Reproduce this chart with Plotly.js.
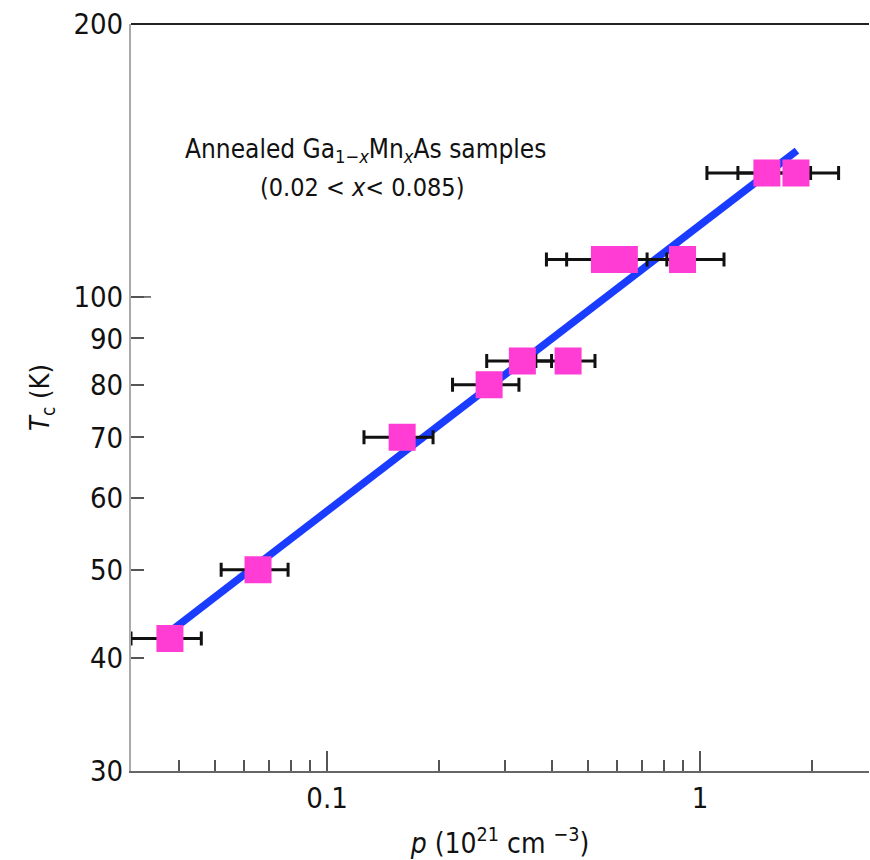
<!DOCTYPE html>
<html>
<head>
<meta charset="utf-8">
<script src="https://cdn.plot.ly/plotly-3.0.1.min.js"></script>
<style>html,body{margin:0;padding:0;background:#fff;}#chart{width:870px;height:860px;}</style>
</head>
<body>
<div id="chart"></div>
<script>
// Hole concentration p (10^21 cm^-3) and Curie temperature Tc (K)
const pValues   = [0.0379, 0.0653, 0.159, 0.272, 0.334, 0.443, 0.5545, 0.627, 0.898, 1.512, 1.809];
const tcValues  = [42, 50, 70, 80, 85, 85, 110, 110, 110, 137, 137];
const pErrors   = [0.0081, 0.0133, 0.0334, 0.055, 0.066, 0.080, 0.167, 0.188, 0.262, 0.468, 0.545];

// Fitted line (log-log)
const fitP  = [0.0375, 1.82];
const fitTc = [42.6, 145];

// Axis ticks
const xTickVals  = [0.1, 1];
const xTickText  = ['0.1', '1'];
const xMinorVals = [0.04, 0.05, 0.06, 0.07, 0.08, 0.09, 0.2, 0.3, 0.4, 0.5, 0.6, 0.7, 0.8, 0.9, 2];
const yTickVals  = [30, 40, 50, 60, 70, 80, 90, 100, 200];
const yTickText  = ['30', '40', '50', '60', '70', '80', '90', '100', '200'];

const FONT = "'Liberation Sans Narrow', 'Arial Narrow', 'DejaVu Sans Condensed', 'DejaVu Sans', sans-serif";

const traces = [
  {
    x: fitP, y: fitTc, type: 'scatter', mode: 'lines',
    line: {color: '#1a3cff', width: 7.5},
    hoverinfo: 'skip', showlegend: false
  },
  {
    x: pValues, y: tcValues, type: 'scatter', mode: 'markers',
    marker: {symbol: 'square', size: 25, color: '#ff3cd4', line: {color: '#ff3cd4', width: 2}},
    error_x: {type: 'data', array: pErrors, visible: true, color: '#111', thickness: 3, width: 7},
    showlegend: false
  }
];

const layout = {
  width: 870, height: 860,
  margin: {l: 131, r: 1, t: 24, b: 89},
  paper_bgcolor: '#fff', plot_bgcolor: '#fff',
  font: {family: FONT, color: '#111', size: 29},
  showlegend: false,
  xaxis: {
    type: 'log',
    range: [Math.log10(0.0298), Math.log10(2.84)],
    tickmode: 'array', tickvals: xTickVals, ticktext: xTickText,
    ticks: 'inside', ticklen: 20, tickwidth: 1.5, tickcolor: '#555',
    minor: {tickmode: 'array', tickvals: xMinorVals, ticks: 'inside', ticklen: 11, tickwidth: 1.5, tickcolor: '#555', showgrid: false},
    showline: true, linecolor: '#666', linewidth: 1.5,
    showgrid: false, zeroline: false,
    tickfont: {family: FONT, size: 29, color: '#111'},
    title: {text: '<i>p</i> (10<sup>21</sup> cm <sup>\u22123</sup>)', font: {family: FONT, size: 28, color: '#111'}, standoff: 20}
  },
  yaxis: {
    type: 'log',
    range: [Math.log10(30), Math.log10(200)],
    tickmode: 'array', tickvals: yTickVals, ticktext: yTickText,
    ticks: 'inside', ticklen: 13, tickwidth: 1.5, tickcolor: '#555',
    showline: true, linecolor: '#aaa', linewidth: 2,
    showgrid: false, zeroline: false,
    tickfont: {family: FONT, size: 29, color: '#111'},
    title: {text: '<i>T</i><sub>c</sub> (K)', font: {family: FONT, size: 27, color: '#111'}, standoff: 16}
  },
  shapes: [
    {type: 'line', xref: 'paper', yref: 'paper', x0: 0, x1: 1, y0: 1, y1: 1, line: {color: '#222', width: 2}},
    {type: 'line', xref: 'paper', yref: 'y', x0: 0, x1: 20 / 738, y0: 100, y1: 100, line: {color: '#555', width: 1.5}}
  ],
  annotations: [
    {xref: 'paper', yref: 'paper', x: 0.318, y: 0.83, xanchor: 'center', yanchor: 'middle', showarrow: false,
     text: 'Annealed Ga<sub>1\u2212<i>x</i></sub>Mn<sub><i>x</i></sub>As samples', font: {family: FONT, size: 26, color: '#111'}},
    {xref: 'paper', yref: 'paper', x: 0.313, y: 0.7805, xanchor: 'center', yanchor: 'middle', showarrow: false,
     text: '(0.02 &lt; <i>x</i>&lt; 0.085)', font: {family: FONT, size: 25, color: '#111'}}
  ]
};

Plotly.newPlot('chart', traces, layout, {displayModeBar: false});
</script>
</body>
</html>
